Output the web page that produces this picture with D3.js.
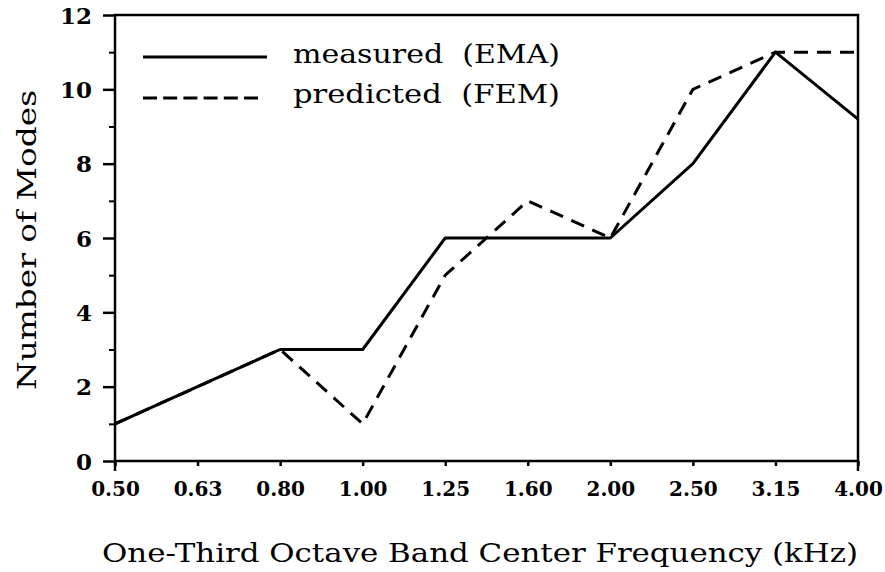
<!DOCTYPE html>
<html><head><meta charset="utf-8">
<script src="https://cdn.jsdelivr.net/npm/d3@7"></script>
<style>
html,body{margin:0;padding:0;background:#fff;}
svg{display:block;}
text{font-family:"DejaVu Serif",serif;fill:#000;}
</style></head>
<body><svg id="c" width="885" height="572"></svg>
<script>
const categories = ["0.50","0.63","0.80","1.00","1.25","1.60","2.00","2.50","3.15","4.00"];
const measured  = [1, 2, 3, 3, 6, 6, 6, 8, 11, 9.2];
const predicted = [1, 2, 3, 1, 5, 7, 6, 10, 11, 11];
const yTicks = [0, 2, 4, 6, 8, 10, 12];
const yMinor = [1, 3, 5, 7, 9, 11];
const seriesNames = ["measured  (EMA)", "predicted  (FEM)"];
const xTitle = "One-Third Octave Band Center Frequency (kHz)";
const yTitle = "Number of Modes";

const svg = d3.select("#c");
const L = 115, R = 858, T = 15, B = 461;
const x = d3.scalePoint().domain(categories).range([L, R]);
const y = d3.scaleLinear().domain([0, 12]).range([B, T]);

// frame
svg.append("rect").attr("x", L).attr("y", T).attr("width", R - L).attr("height", B - T)
  .attr("fill", "none").attr("stroke", "#000").attr("stroke-width", 2.5);
svg.append("line").attr("x1", L).attr("x2", L).attr("y1", B).attr("y2", B + 10).attr("stroke", "#000").attr("stroke-width", 2.5);
svg.append("line").attr("x1", R).attr("x2", R).attr("y1", B).attr("y2", B + 10).attr("stroke", "#000").attr("stroke-width", 2.5);

// y axis
const yAxis = d3.axisLeft(y).tickValues(yTicks).tickSize(12).tickPadding(11).tickFormat(d3.format("d"));
const gy = svg.append("g").attr("transform", `translate(${L},0)`).call(yAxis);
gy.select(".domain").remove();
gy.selectAll(".tick line").attr("stroke-width", 2.5);
gy.selectAll(".tick text").style("font-size", "23px").style("font-weight", "bold").attr("dy", "0.36em");
const gym = svg.append("g").attr("transform", `translate(${L},0)`).call(d3.axisLeft(y).tickValues(yMinor).tickSize(6).tickFormat(""));
gym.select(".domain").remove();
gym.selectAll(".tick line").attr("stroke-width", 2);

// x axis
const xAxis = d3.axisBottom(x).tickSize(5).tickPadding(16);
const gx = svg.append("g").attr("transform", `translate(0,${B})`).call(xAxis);
gx.select(".domain").remove();
gx.selectAll(".tick line").attr("stroke-width", 2.5);
gx.selectAll(".tick text").style("font-size", "20px").style("font-weight", "bold").attr("dy", "0.71em");

// lines
const line = d3.line().x((d, i) => x(categories[i])).y(d => y(d));
svg.append("path").datum(predicted).attr("d", line).attr("fill", "none").attr("stroke", "#000")
  .attr("stroke-width", 3).attr("stroke-dasharray", "14,9");
svg.append("path").datum(measured).attr("d", line).attr("fill", "none").attr("stroke", "#000")
  .attr("stroke-width", 3).attr("stroke-linejoin", "round");

// legend
svg.append("line").attr("x1", 143).attr("x2", 267).attr("y1", 57).attr("y2", 57).attr("stroke", "#000").attr("stroke-width", 3);
svg.append("line").attr("x1", 143).attr("x2", 258).attr("y1", 98).attr("y2", 98).attr("stroke", "#000").attr("stroke-width", 3).attr("stroke-dasharray", "14,6.2");
svg.append("text").attr("x", 293).attr("y", 63).style("font-size", "26px").attr("xml:space", "preserve")
  .attr("textLength", 267).attr("lengthAdjust", "spacingAndGlyphs").text(seriesNames[0]);
svg.append("text").attr("x", 293).attr("y", 103).style("font-size", "26px").attr("xml:space", "preserve")
  .attr("textLength", 267).attr("lengthAdjust", "spacingAndGlyphs").text(seriesNames[1]);

// titles
svg.append("text").attr("x", 102).attr("y", 562).style("font-size", "26px")
  .attr("textLength", 756).attr("lengthAdjust", "spacingAndGlyphs").text(xTitle);
svg.append("text").attr("transform", "translate(36,240) rotate(-90)").attr("text-anchor", "middle")
  .style("font-size", "26px").attr("textLength", 300).attr("lengthAdjust", "spacingAndGlyphs").text(yTitle);
</script></body></html>
